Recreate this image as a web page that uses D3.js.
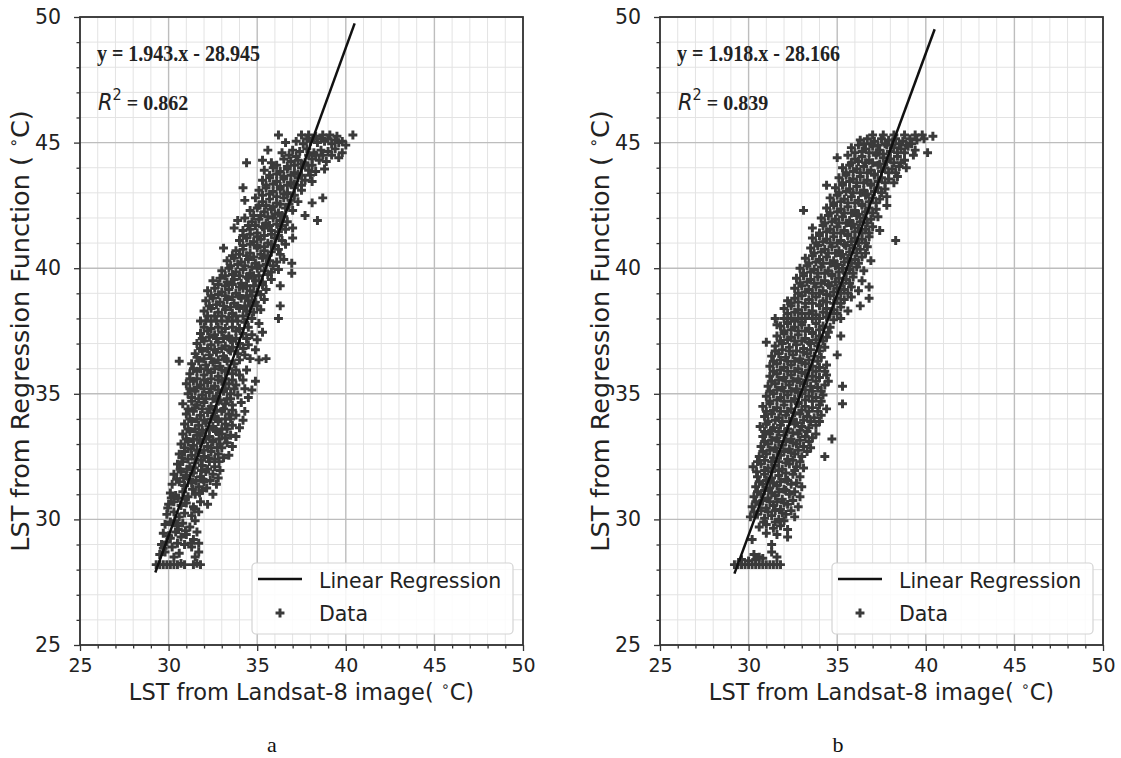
<!DOCTYPE html>
<html>
<head>
<meta charset="utf-8">
<script src="https://cdn.jsdelivr.net/npm/d3@7"></script>
<style>
  body { margin: 0; background: #fff; }
</style>
</head>
<body>
<div id="chart"></div>
<script>
// axis ticks shared by both panels (same range on x and y)
var majorTicks = [25, 30, 35, 40, 45, 50];
var panelLetters = ["a", "b"];
var equationLabels = ["y = 1.943.x - 28.945", "y = 1.918.x - 28.166"];
var r2Labels = ["0.862", "0.839"];
var slopes = [1.943, 1.918];
var intercepts = [-28.945, -28.166];
var fitRanges = [[29.25, 40.5], [29.2, 40.5]];
var legendLabels = ["Linear Regression", "Data"];

// scatter points  [landsat, regression]
var scatterA = [
  [29.3,28.2],[29.5,28.2],[29.7,28.2],[29.9,28.2],[30.1,28.2],[30.3,28.2],[30.5,28.2],[30.7,28.25],[30.9,28.2],
  [31.4,28.2],[31.6,28.25],[31.8,28.2],[31.5,28.5],[31.7,28.7],[31.3,28.9],
  [29.5,28.6],[29.8,28.7],[30.3,28.5],[30.6,28.65],
  [29.6,29.0],[29.9,29.1],[30.2,28.9],[30.5,29.05],[30.9,29.0],[31.4,29.2],[31.7,29.05],
  [29.7,29.45],[30.0,29.35],[30.4,29.5],[30.7,29.3],[31.0,29.4],[31.6,29.5],
  [29.8,29.8],[30.1,29.9],[30.5,29.75],[30.8,29.85],[31.2,29.7],[31.5,29.95],
  [29.9,30.2],[30.3,30.3],[30.6,30.1],[30.9,30.25],[31.3,30.15],[31.7,30.3],
  [30.0,30.6],[30.3,30.7],[30.7,30.55],[31.0,30.65],[31.4,30.5],[31.8,30.7],[32.2,30.6],
  [30.1,31.05],[30.4,30.95],[30.8,31.1],[31.1,30.9],[31.5,31.0],[31.9,31.15],[32.5,31.0],
  [30.2,31.4],[30.6,31.5],[30.9,31.35],[31.3,31.45],[31.7,31.3],[32.0,31.5],[32.7,31.4],
  [30.3,31.8],[30.7,31.9],[31.0,31.75],[31.4,31.85],[31.8,31.7],[32.1,31.9],[32.5,31.8],[32.8,31.65],
  [30.5,32.2],[30.8,32.3],[31.2,32.1],[31.5,32.25],[31.9,32.15],[32.3,32.3],[32.6,32.1],
  [30.6,32.6],[30.9,32.7],[31.3,32.55],[31.7,32.65],[32.0,32.5],[32.4,32.7],[32.8,32.6],[33.4,32.55],
  [30.7,33.0],[31.1,33.1],[31.4,32.95],[31.8,33.05],[32.2,32.9],[32.5,33.1],[32.9,33.0],[33.3,33.05],
  [30.8,33.4],[31.2,33.5],[31.6,33.35],[31.9,33.45],[32.3,33.3],[32.7,33.5],[33.0,33.4],[33.5,33.35],
  [30.9,33.8],[31.3,33.9],[31.7,33.75],[32.1,33.85],[32.5,33.7],[32.8,33.9],[33.2,33.8],[33.6,33.75],
  [31.0,34.2],[31.4,34.3],[31.8,34.15],[32.2,34.25],[32.6,34.1],[33.0,34.3],[33.4,34.2],[33.8,34.15],
  [30.8,34.6],[31.3,34.7],[31.6,34.55],[32.0,34.65],[32.4,34.5],[32.8,34.7],[33.2,34.6],[33.6,34.55],[34.1,34.65],
  [31.1,35.0],[31.5,35.1],[31.9,34.95],[32.3,35.05],[32.7,34.9],[33.1,35.1],[33.5,35.0],[33.9,34.95],
  [31.0,35.4],[31.4,35.5],[31.8,35.35],[32.2,35.45],[32.6,35.3],[33.0,35.5],[33.4,35.4],[33.8,35.35],
  [31.2,35.8],[31.6,35.9],[32.0,35.75],[32.4,35.85],[32.8,35.7],[33.2,35.9],[33.6,35.8],[34.0,35.75],
  [30.6,36.3],[31.3,36.2],[31.7,36.3],[32.1,36.15],[32.5,36.25],[32.9,36.1],[33.3,36.3],[33.7,36.2],[35.1,36.35],[35.5,36.4],
  [31.5,36.6],[31.9,36.7],[32.3,36.55],[32.7,36.65],[33.1,36.5],[33.5,36.7],[33.9,36.6],[34.3,36.55],
  [31.6,37.0],[32.0,37.1],[32.4,36.95],[32.8,37.05],[33.2,36.9],[33.6,37.1],[34.0,37.0],[34.5,36.95],
  [31.8,37.4],[32.2,37.5],[32.6,37.35],[33.0,37.45],[33.4,37.3],[33.8,37.5],[34.2,37.4],[34.7,37.35],[35.3,37.45],
  [31.8,37.9],[32.1,37.9],[32.4,37.9],[32.7,37.9],[33.0,37.9],[33.3,37.9],[33.6,37.9],[33.9,37.9],[34.3,37.85],[34.7,38.0],[35.1,37.8],
  [32.0,38.3],[32.4,38.4],[32.8,38.25],[33.2,38.35],[33.6,38.2],[34.0,38.4],[34.4,38.3],[34.8,38.25],[35.2,38.35],[36.2,38.0],
  [32.1,38.7],[32.5,38.8],[32.9,38.65],[33.3,38.75],[33.7,38.6],[34.1,38.8],[34.5,38.7],[34.9,38.65],[35.4,38.75],[36.3,38.5],
  [32.2,39.1],[32.6,39.2],[33.0,39.05],[33.4,39.15],[33.8,39.0],[34.2,39.2],[34.6,39.1],[35.0,39.05],[35.5,39.15],[36.3,39.3],
  [32.5,39.5],[32.9,39.6],[33.3,39.45],[33.7,39.55],[34.1,39.4],[34.5,39.6],[34.9,39.5],[35.3,39.45],[35.8,39.55],
  [33.0,39.9],[33.4,40.0],[33.8,39.85],[34.2,39.95],[34.6,39.8],[35.0,40.0],[35.4,39.9],[35.8,39.85],[36.2,39.95],[36.95,39.8],
  [33.3,40.3],[33.7,40.4],[34.1,40.25],[34.5,40.35],[34.9,40.2],[35.3,40.4],[35.7,40.3],[36.1,40.25],[36.5,40.35],[36.95,40.2],
  [33.1,40.8],[33.8,40.7],[34.2,40.75],[34.6,40.6],[35.0,40.8],[35.4,40.7],[35.8,40.65],[36.2,40.75],
  [34.0,41.1],[34.4,41.2],[34.8,41.05],[35.2,41.15],[35.6,41.0],[36.0,41.2],[36.4,41.1],[37.0,41.2],
  [33.7,41.6],[34.2,41.5],[34.6,41.55],[35.0,41.4],[35.4,41.6],[35.8,41.5],[36.2,41.45],[36.6,41.55],[37.0,41.6],
  [33.9,41.9],[34.3,42.0],[34.7,41.85],[35.1,41.95],[35.5,41.8],[35.9,42.0],[36.3,41.9],[36.7,41.85],[38.4,41.9],
  [34.6,42.3],[35.0,42.4],[35.4,42.25],[35.8,42.35],[36.2,42.2],[36.6,42.4],[37.0,42.3],[37.7,42.1],[38.1,42.6],
  [34.3,42.7],[34.9,42.8],[35.3,42.65],[35.7,42.75],[36.1,42.6],[36.5,42.8],[36.9,42.7],[37.3,42.65],
  [34.2,43.2],[35.1,43.1],[35.5,43.2],[35.9,43.05],[36.3,43.15],[36.7,43.0],[37.1,43.2],[37.5,43.1],[38.7,42.8],
  [35.3,43.5],[35.7,43.6],[36.1,43.45],[36.5,43.55],[36.9,43.4],[37.3,43.6],[37.7,43.5],[38.1,43.45],
  [35.4,43.9],[35.9,44.0],[36.3,43.85],[36.7,43.95],[37.1,43.8],[37.5,44.0],[37.9,43.9],[38.3,43.85],[38.8,43.95],
  [34.4,44.2],[35.3,44.3],[35.8,44.2],[36.5,44.35],[36.9,44.25],[37.3,44.3],[37.7,44.2],[38.1,44.35],[38.5,44.3],[38.9,44.25],[39.6,44.4],
  [35.6,44.7],[36.4,44.6],[37.0,44.7],[37.4,44.65],[37.8,44.75],[38.2,44.6],[38.6,44.7],[39.0,44.65],[39.4,44.75],[39.8,44.6],
  [36.6,45.0],[37.2,45.05],[37.6,44.95],[38.0,45.05],[38.4,45.0],[38.8,45.05],[39.2,44.95],[39.6,45.0],[40.0,44.9],
  [36.2,45.3],[37.5,45.3],[37.9,45.3],[38.3,45.25],[38.7,45.3],[39.1,45.3],[39.5,45.25],[40.4,45.3],
  // denser core of panel a
  [29.7,28.85],[30.1,29.25],[30.55,29.6],[30.95,29.55],[31.25,29.05],[30.35,29.95],[31.45,30.4],[29.95,30.45],
  [30.15,30.85],[30.55,30.85],[30.95,30.8],[31.35,31.2],[31.75,31.05],[32.15,31.25],[30.45,31.6],[30.85,31.65],
  [31.2,31.6],[31.55,31.55],[31.95,31.6],[32.35,31.55],[32.9,31.95],[30.65,32.0],[31.05,32.0],[31.45,32.05],
  [31.85,31.95],[32.2,32.0],[32.85,32.3],[33.1,32.45],
  [30.75,32.45],[31.1,32.4],[31.5,32.4],[31.85,32.35],[32.25,32.45],[32.6,32.4],[33.0,32.85],[33.6,32.9],
  [30.9,32.85],[31.25,32.8],[31.6,32.75],[32.0,32.75],[32.4,32.85],[32.75,32.85],[33.2,33.25],[33.8,33.3],
  [31.0,33.2],[31.4,33.2],[31.75,33.15],[32.1,33.2],[32.5,33.15],[32.85,33.2],[33.3,33.6],[34.0,33.65],
  [31.1,33.6],[31.5,33.6],[31.9,33.55],[32.3,33.6],[32.65,33.55],[33.0,33.6],[33.5,34.0],[34.2,33.95],
  [31.2,34.0],[31.6,34.0],[32.0,33.95],[32.4,34.0],[32.8,34.0],[33.2,34.0],[33.6,34.35],[34.3,34.3],
  [31.1,34.4],[31.5,34.45],[31.9,34.4],[32.3,34.4],[32.7,34.35],[33.1,34.4],[33.5,34.8],[34.5,34.85],
  [31.3,34.85],[31.7,34.8],[32.1,34.8],[32.5,34.8],[32.9,34.75],[33.3,34.8],[33.7,35.2],[34.3,35.2],[34.7,35.15],
  [31.2,35.2],[31.6,35.25],[32.0,35.2],[32.4,35.2],[32.8,35.15],[33.2,35.2],[33.6,35.55],[34.2,35.55],[34.9,35.5],
  [31.2,35.6],[31.6,35.6],[32.0,35.55],[32.4,35.6],[32.8,35.55],[33.2,35.6],[33.8,35.95],[34.4,35.95],
  [31.4,36.0],[31.8,36.0],[32.2,35.95],[32.6,36.0],[33.0,35.95],[33.4,36.0],[34.0,36.35],[34.6,36.4],
  [31.6,36.45],[32.0,36.4],[32.4,36.4],[32.8,36.35],[33.2,36.4],[33.6,36.85],[34.2,36.8],[34.9,36.75],
  [31.8,36.8],[32.2,36.8],[32.6,36.75],[33.0,36.8],[33.4,36.75],[33.8,37.2],[34.4,37.2],[35.0,37.15],
  [31.9,37.2],[32.3,37.25],[32.7,37.2],[33.1,37.2],[33.5,37.15],[34.0,37.6],[34.5,37.65],
  [32.0,37.65],[32.4,37.6],[32.8,37.65],[33.2,37.6],[33.6,37.65],
  [32.2,38.1],[32.6,38.1],[33.0,38.1],[33.4,38.05],[33.8,38.1],[34.2,38.1],[34.6,38.5],[35.0,38.5],
  [32.3,38.5],[32.7,38.55],[33.1,38.5],[33.5,38.45],[33.9,38.5],[34.3,38.5],[34.7,38.9],[35.2,38.95],
  [32.4,38.9],[32.8,38.95],[33.2,38.9],[33.6,38.85],[34.0,38.9],[34.4,38.9],[34.8,39.3],[35.3,39.35],
  [32.8,39.35],[33.2,39.3],[33.6,39.35],[34.0,39.25],[34.4,39.3],[35.1,39.7],[35.6,39.75],
  [33.2,39.7],[33.6,39.75],[34.0,39.7],[34.4,39.65],[34.8,39.7],
  [33.5,40.1],[33.9,40.15],[34.3,40.1],[34.7,40.05],[35.1,40.1],[35.5,40.15],[35.9,40.1],[36.3,40.55],
  [33.6,40.5],[34.0,40.55],[34.4,40.5],[34.8,40.45],[35.2,40.55],[35.6,40.5],[36.0,40.9],[36.6,40.95],
  [34.2,40.9],[34.6,40.95],[35.0,40.9],[35.4,40.85],[35.8,40.95],[36.2,41.3],
  [34.2,41.3],[34.6,41.35],[35.0,41.25],[35.4,41.3],[35.8,41.35],[36.4,41.7],
  [34.5,41.7],[34.9,41.7],[35.3,41.65],[35.7,41.7],[36.1,41.75],[36.5,42.05],
  [34.8,42.1],[35.2,42.1],[35.6,42.05],[36.0,42.15],[36.4,42.1],[36.8,42.55],
  [35.1,42.5],[35.5,42.5],[35.9,42.45],[36.3,42.55],[36.7,42.95],[37.1,42.9],
  [35.3,42.9],[35.7,42.95],[36.1,42.85],[36.5,42.95],[36.9,43.35],[37.5,43.3],
  [35.5,43.3],[35.9,43.35],[36.3,43.25],[36.7,43.3],[37.1,43.35],[37.5,43.7],[38.0,43.7],
  [35.7,43.7],[36.1,43.75],[36.5,43.65],[36.9,43.7],[37.3,43.75],[37.7,44.1],[38.1,44.1],
  [36.1,44.1],[36.7,44.05],[37.1,44.1],[37.5,44.15],[37.9,44.5],[38.3,44.5],[38.7,44.5],
  [37.2,44.45],[36.8,44.5],[39.2,44.5],[37.8,45.15],[38.2,45.15],[38.6,45.15],[39.0,45.15],[39.4,45.1],[39.8,45.05]
];

// scatter points
var scatterB = [
  [29.2,28.2],[29.4,28.2],[29.6,28.2],[29.8,28.2],[30.0,28.2],[30.2,28.2],[30.4,28.2],[30.6,28.2],[30.8,28.2],
  [31.0,28.2],[31.2,28.2],[31.4,28.2],[31.6,28.2],[31.8,28.2],
  [30.3,28.6],[30.6,28.5],[31.3,28.7],[31.3,29.0],[30.2,29.2],[32.2,29.3],
  [30.6,29.7],[31.0,29.8],[31.4,29.65],[31.8,29.75],[32.2,29.6],
  [30.1,30.1],[30.5,30.2],[30.9,30.05],[31.3,30.15],[31.7,30.0],[32.1,30.2],[32.6,30.1],
  [30.2,30.5],[30.6,30.6],[31.0,30.45],[31.4,30.55],[31.8,30.4],[32.2,30.6],[32.8,30.5],
  [30.3,30.9],[30.7,31.0],[31.1,30.85],[31.5,30.95],[31.9,30.8],[32.3,31.0],[32.9,30.9],
  [30.4,31.3],[30.8,31.4],[31.2,31.25],[31.6,31.35],[32.0,31.2],[32.4,31.4],[33.0,31.3],
  [30.5,31.7],[30.9,31.8],[31.3,31.65],[31.7,31.75],[32.1,31.6],[32.5,31.8],[32.9,31.7],
  [30.25,32.1],[30.7,32.2],[31.1,32.05],[31.5,32.15],[31.9,32.0],[32.3,32.2],[32.7,32.1],[33.1,32.05],
  [30.6,32.5],[31.0,32.6],[31.4,32.45],[31.8,32.55],[32.2,32.4],[32.6,32.6],[33.0,32.5],[34.3,32.5],
  [30.7,32.9],[31.1,33.0],[31.5,32.85],[31.9,32.95],[32.3,32.8],[32.7,33.0],[33.1,32.9],[33.5,32.85],
  [30.8,33.3],[31.2,33.4],[31.6,33.25],[32.0,33.35],[32.4,33.2],[32.8,33.4],[33.2,33.3],[33.6,33.25],[34.7,33.2],
  [30.65,33.7],[31.0,33.8],[31.4,33.65],[31.8,33.75],[32.2,33.6],[32.6,33.8],[33.0,33.7],[33.4,33.65],[33.8,33.75],
  [30.9,34.1],[31.3,34.2],[31.7,34.05],[32.1,34.15],[32.5,34.0],[32.9,34.2],[33.3,34.1],[33.7,34.05],[34.1,34.15],
  [30.8,34.5],[31.2,34.6],[31.6,34.45],[32.0,34.55],[32.4,34.4],[32.8,34.6],[33.2,34.5],[33.6,34.45],[34.0,34.55],[34.4,34.4],
  [31.0,34.9],[31.4,35.0],[31.8,34.85],[32.2,34.95],[32.6,34.8],[33.0,35.0],[33.4,34.9],[33.8,34.85],[34.2,34.95],[35.3,34.6],
  [31.1,35.3],[31.5,35.4],[31.9,35.25],[32.3,35.35],[32.7,35.2],[33.1,35.4],[33.5,35.3],[33.9,35.25],[34.3,35.35],[35.3,35.3],
  [31.2,35.7],[31.6,35.8],[32.0,35.65],[32.4,35.75],[32.8,35.6],[33.2,35.8],[33.6,35.7],[34.0,35.65],[34.4,35.75],
  [31.2,36.1],[31.6,36.2],[32.0,36.05],[32.4,36.15],[32.8,36.0],[33.2,36.2],[33.6,36.1],[34.0,36.05],[34.4,36.15],
  [31.3,36.5],[31.7,36.6],[32.1,36.45],[32.5,36.55],[32.9,36.4],[33.3,36.6],[33.7,36.5],[34.1,36.45],[35.0,36.55],
  [31.0,37.05],[31.5,36.9],[31.9,37.0],[32.3,36.85],[32.7,36.95],[33.1,36.8],[33.5,37.0],[33.9,36.9],[34.3,36.85],
  [31.6,37.3],[32.0,37.4],[32.4,37.25],[32.8,37.35],[33.2,37.2],[33.6,37.4],[34.0,37.3],[34.4,37.25],[35.2,37.3],
  [31.6,37.75],[31.8,37.7],[32.2,37.8],[32.6,37.65],[33.0,37.75],[33.4,37.6],[33.8,37.8],[34.2,37.7],[34.6,37.65],
  [31.5,38.0],[32.0,38.0],[32.4,38.0],[32.8,38.0],[33.2,38.0],[33.6,38.0],[34.0,38.0],[34.4,38.05],[34.8,37.95],[35.2,38.0],
  [32.0,38.4],[32.4,38.5],[32.8,38.35],[33.2,38.45],[33.6,38.3],[34.0,38.5],[34.4,38.4],[34.8,38.35],[35.2,38.45],[35.6,38.3],[36.3,38.5],
  [32.2,38.7],[32.6,38.8],[33.0,38.9],[33.4,38.75],[33.8,38.85],[34.2,38.7],[34.6,38.9],[35.0,38.8],[35.4,38.75],[35.8,38.85],[36.8,38.8],
  [32.6,39.2],[33.0,39.3],[33.4,39.15],[33.8,39.25],[34.2,39.1],[34.6,39.3],[35.0,39.2],[35.4,39.15],[35.8,39.25],[36.2,39.1],[36.8,39.25],
  [32.7,39.6],[33.1,39.7],[33.5,39.55],[33.9,39.65],[34.3,39.5],[34.7,39.7],[35.1,39.6],[35.5,39.55],[35.9,39.65],[36.4,39.5],
  [32.9,40.0],[33.3,40.1],[33.7,39.95],[34.1,40.05],[34.5,39.9],[34.9,40.1],[35.3,40.0],[35.7,39.95],[36.1,40.05],[36.5,39.9],
  [33.2,40.4],[33.6,40.5],[34.0,40.35],[34.4,40.45],[34.8,40.3],[35.2,40.5],[35.6,40.4],[36.0,40.35],[36.4,40.45],[36.9,40.3],
  [33.5,40.8],[33.9,40.9],[34.3,40.75],[34.7,40.85],[35.1,40.7],[35.5,40.9],[35.9,40.8],[36.3,40.75],[36.7,40.85],
  [33.6,41.2],[34.0,41.3],[34.4,41.15],[34.8,41.25],[35.2,41.1],[35.6,41.3],[36.0,41.2],[36.4,41.15],[36.8,41.25],[38.3,41.1],
  [33.6,41.6],[34.2,41.7],[34.6,41.55],[35.0,41.65],[35.4,41.5],[35.8,41.7],[36.2,41.6],[36.6,41.55],[37.0,41.65],[37.4,41.5],
  [34.1,42.0],[34.5,42.1],[34.9,41.95],[35.3,42.05],[35.7,41.9],[36.1,42.1],[36.5,42.0],[36.9,41.95],[37.3,42.05],
  [33.1,42.3],[34.4,42.4],[34.8,42.5],[35.2,42.35],[35.6,42.45],[36.0,42.3],[36.4,42.5],[36.8,42.4],[37.2,42.35],[37.8,42.5],
  [34.6,42.8],[35.0,42.9],[35.4,42.75],[35.8,42.85],[36.2,42.7],[36.6,42.9],[37.0,42.8],[37.4,42.75],[37.8,42.85],
  [34.4,43.3],[34.9,43.2],[35.3,43.3],[35.7,43.15],[36.1,43.25],[36.5,43.1],[36.9,43.3],[37.3,43.2],[37.7,43.15],[38.2,43.4],
  [35.1,43.6],[35.5,43.7],[35.9,43.55],[36.3,43.65],[36.7,43.5],[37.1,43.7],[37.5,43.6],[37.9,43.55],[38.4,43.65],
  [35.3,44.0],[35.7,44.1],[36.1,43.95],[36.5,44.05],[36.9,43.9],[37.3,44.1],[37.7,44.0],[38.1,43.95],[38.5,44.05],[38.9,44.0],
  [35.0,44.4],[35.6,44.5],[36.0,44.35],[36.4,44.45],[36.8,44.3],[37.2,44.5],[37.6,44.4],[38.0,44.35],[38.4,44.45],[38.8,44.3],[39.3,44.5],
  [35.8,44.8],[36.2,44.9],[36.6,44.75],[37.0,44.85],[37.4,44.7],[37.8,44.9],[38.2,44.8],[38.6,44.75],[39.0,44.85],[39.4,44.7],[40.1,44.6],
  [36.3,45.1],[36.7,45.15],[37.1,45.05],[37.5,45.15],[37.9,45.1],[38.3,45.15],[38.7,45.05],[39.1,45.15],[39.5,45.1],[39.9,45.15],
  [37.0,45.3],[37.6,45.3],[38.2,45.3],[38.8,45.3],[39.4,45.3],[39.8,45.3],[40.4,45.25],
  // denser core of panel b
  [30.4,28.4],[30.8,28.45],[29.6,28.4],[30.0,28.35],[31.6,28.5],[31.0,29.45],[31.6,29.4],[30.85,29.9],[31.5,29.9],[32.0,29.95],
  [30.3,30.3],[30.7,30.35],[31.1,30.3],[31.5,30.35],[31.9,30.25],[32.4,30.35],[30.4,30.7],[30.8,30.75],[31.2,30.7],
  [31.6,30.7],[32.0,30.65],[32.5,30.75],[30.5,31.1],[30.9,31.15],[31.3,31.05],[31.7,31.1],[32.1,31.15],[32.6,31.1],
  [30.6,31.5],[31.0,31.55],[31.4,31.45],[31.8,31.5],[32.2,31.55],[32.7,31.45],[30.45,31.9],[30.9,31.95],[31.3,31.9],
  [31.7,31.95],[32.1,31.85],[32.6,31.95],
  [30.5,32.3],[30.9,32.35],[31.3,32.3],[31.7,32.3],[32.1,32.25],[32.5,32.35],[32.9,32.3],[30.8,32.7],[31.2,32.75],
  [31.6,32.7],[32.0,32.7],[32.4,32.65],[32.8,32.75],[33.3,32.7],[30.9,33.1],[31.3,33.15],[31.7,33.1],[32.1,33.1],
  [32.5,33.05],[32.9,33.15],[33.4,33.1],[30.9,33.5],[31.3,33.55],[31.7,33.5],[32.1,33.5],[32.5,33.45],[32.9,33.55],
  [33.3,33.5],[33.8,33.4],[31.1,33.9],[31.5,33.95],[31.9,33.9],[32.3,33.9],[32.7,33.85],[33.1,33.95],[33.5,33.9],[34.0,33.9],
  [31.0,34.3],[31.4,34.35],[31.8,34.3],[32.2,34.3],[32.6,34.25],[33.0,34.35],[33.4,34.3],[33.9,34.3],[31.2,34.7],
  [31.6,34.75],[32.0,34.7],[32.4,34.7],[32.8,34.65],[33.2,34.75],[33.6,34.7],[34.1,34.7],[31.2,35.1],[31.6,35.15],
  [32.0,35.1],[32.4,35.1],[32.8,35.05],[33.2,35.15],[33.6,35.1],[34.1,35.1],[31.3,35.5],[31.7,35.55],[32.1,35.5],
  [32.5,35.5],[32.9,35.45],[33.3,35.55],[33.8,35.5],[34.5,35.5],[31.4,35.9],[31.8,35.95],[32.2,35.9],[32.6,35.9],
  [33.0,35.85],[33.4,35.95],[33.8,35.9],[34.3,35.9],
  [31.4,36.3],[31.8,36.35],[32.2,36.3],[32.6,36.3],[33.0,36.25],[33.4,36.35],[33.9,36.3],[31.5,36.7],[31.9,36.75],
  [32.3,36.7],[32.7,36.7],[33.1,36.65],[33.5,36.75],[34.0,36.7],[31.8,37.1],[32.2,37.15],[32.6,37.1],[33.0,37.1],
  [33.4,37.05],[33.8,37.15],[34.2,37.1],[32.0,37.5],[32.4,37.55],[32.8,37.5],[33.2,37.5],[33.6,37.45],[34.0,37.55],
  [34.5,37.45],[32.2,37.85],[32.6,37.9],[33.0,37.85],
  [32.2,38.2],[32.6,38.25],[33.0,38.2],[33.4,38.2],[33.8,38.15],[34.2,38.25],[34.6,38.2],[35.0,38.2],[32.4,38.6],
  [32.8,38.65],[33.2,38.6],[33.6,38.6],[34.0,38.55],[34.4,38.65],[34.8,38.6],[35.2,38.6],[32.8,39.0],[33.2,39.05],
  [33.6,39.0],[34.0,39.0],[34.4,38.95],[34.8,39.05],[35.2,39.0],[35.6,39.0],[32.9,39.4],[33.3,39.45],[33.7,39.4],
  [34.1,39.4],[34.5,39.35],[34.9,39.45],[35.3,39.4],[35.7,39.4],[33.1,39.8],[33.5,39.85],[33.9,39.8],[34.3,39.8],
  [34.7,39.75],[35.1,39.85],[35.5,39.8],[35.9,39.8],
  [33.4,40.2],[33.8,40.25],[34.2,40.2],[34.6,40.2],[35.0,40.15],[35.4,40.25],[35.8,40.2],[36.2,40.2],[33.7,40.6],
  [34.1,40.65],[34.5,40.6],[34.9,40.6],[35.3,40.55],[35.7,40.65],[36.1,40.6],[36.6,40.6],[33.8,41.0],[34.2,41.05],
  [34.6,41.0],[35.0,41.0],[35.4,40.95],[35.8,41.05],[36.2,41.0],[36.6,41.0],[34.0,41.4],[34.4,41.45],[34.8,41.4],
  [35.2,41.4],[35.6,41.35],[36.0,41.45],[36.4,41.4],[36.8,41.4],[34.3,41.8],[34.7,41.85],[35.1,41.8],[35.5,41.8],
  [35.9,41.75],[36.3,41.85],[36.7,41.8],
  [34.6,42.2],[35.0,42.25],[35.4,42.2],[35.8,42.2],[36.2,42.15],[36.6,42.25],[37.0,42.2],[34.8,42.6],[35.2,42.65],
  [35.6,42.6],[36.0,42.6],[36.4,42.55],[36.8,42.65],[37.2,42.6],[35.1,43.0],[35.5,43.05],[35.9,43.0],[36.3,43.0],
  [36.7,42.95],[37.1,43.05],[37.5,43.0],[35.3,43.4],[35.7,43.45],[36.1,43.4],[36.5,43.4],[36.9,43.35],[37.3,43.45],
  [37.7,43.4],[35.5,43.8],[35.9,43.85],[36.3,43.8],[36.7,43.8],[37.1,43.75],[37.5,43.85],[37.9,43.8],[38.3,43.8],
  [35.8,44.2],[36.2,44.25],[36.6,44.2],[37.0,44.2],[37.4,44.15],[37.8,44.25],[38.2,44.2],[38.6,44.2],[36.0,44.6],
  [36.4,44.65],[36.8,44.6],[37.2,44.6],[37.6,44.55],[38.0,44.65],[38.4,44.6],[38.8,44.6],[39.2,44.95],[36.5,44.95],
  [36.9,44.95],[37.3,44.9],[37.7,44.95],[38.1,44.9],[38.5,44.95],[38.9,44.9]
];

var scatters = [scatterA, scatterB];

// page + plot geometry
var svgWidth = 1121, svgHeight = 758;
var plotTop = 17, plotWidth = 443, plotHeight = 628;
var plotLefts = [80, 660];
var letterX = [272, 838];

var svg = d3.select("#chart")
  .append("svg")
    .attr("width", svgWidth)
    .attr("height", svgHeight)
    .style("background", "#fff");

var markColor = "#3a3a3a";
var cross = d3.symbol().type(d3.symbolCross).size(44);

// minor tick values between the 5-step majors
var minorTicks = d3.range(26, 50).filter(function(v) { return v % 5 !== 0; });

function drawPanel(i) {
  var g = svg.append("g")
    .attr("transform", "translate(" + plotLefts[i] + "," + plotTop + ")");

  var x = d3.scaleLinear().domain([25, 50]).range([0, plotWidth]);
  var y = d3.scaleLinear().domain([25, 50]).range([plotHeight, 0]);

  // minor grid
  g.selectAll(".mgx").data(minorTicks).enter().append("line")
    .attr("x1", function(d) { return x(d); }).attr("x2", function(d) { return x(d); })
    .attr("y1", 0).attr("y2", plotHeight)
    .attr("stroke", "#e3e3e3").attr("stroke-width", 1);
  g.selectAll(".mgy").data(minorTicks).enter().append("line")
    .attr("y1", function(d) { return y(d); }).attr("y2", function(d) { return y(d); })
    .attr("x1", 0).attr("x2", plotWidth)
    .attr("stroke", "#e3e3e3").attr("stroke-width", 1);

  // major grid
  g.selectAll(".gx").data(majorTicks).enter().append("line")
    .attr("x1", function(d) { return x(d); }).attr("x2", function(d) { return x(d); })
    .attr("y1", 0).attr("y2", plotHeight)
    .attr("stroke", "#bdbdbd").attr("stroke-width", 1.4);
  g.selectAll(".gy").data(majorTicks).enter().append("line")
    .attr("y1", function(d) { return y(d); }).attr("y2", function(d) { return y(d); })
    .attr("x1", 0).attr("x2", plotWidth)
    .attr("stroke", "#bdbdbd").attr("stroke-width", 1.4);

  // scatter data
  g.selectAll(".pt").data(scatters[i]).enter().append("path")
    .attr("d", cross)
    .attr("transform", function(d) { return "translate(" + x(d[0]) + "," + y(d[1]) + ")"; })
    .attr("fill", markColor);

  // regression line
  var fitPts = fitRanges[i].map(function(v) { return [v, slopes[i] * v + intercepts[i]]; });
  g.append("path")
    .datum(fitPts)
    .attr("d", d3.line().x(function(d) { return x(d[0]); }).y(function(d) { return y(d[1]); }))
    .attr("stroke", "#111").attr("stroke-width", 2.5).attr("fill", "none");

  // axes
  var xAxis = g.append("g").attr("transform", "translate(0," + plotHeight + ")")
    .call(d3.axisBottom(x).tickValues(majorTicks).tickSize(6).tickPadding(8));
  var xMinor = g.append("g").attr("transform", "translate(0," + plotHeight + ")")
    .call(d3.axisBottom(x).tickValues(minorTicks).tickSize(3.5).tickFormat(""));
  var yAxis = g.append("g")
    .call(d3.axisLeft(y).tickValues(majorTicks).tickSize(6).tickPadding(13));
  var yMinor = g.append("g")
    .call(d3.axisLeft(y).tickValues(minorTicks).tickSize(3.5).tickFormat(""));

  [xAxis, xMinor, yAxis, yMinor].forEach(function(a) {
    a.select(".domain").remove();
    a.selectAll("line").attr("stroke", "#333").attr("stroke-width", 1.3);
    a.selectAll("text")
      .style("font-family", "DejaVu Sans")
      .style("font-size", "19px")
      .attr("fill", "#222");
  });
  yAxis.selectAll("text").style("font-size", "20.5px");

  // frame
  g.append("rect")
    .attr("width", plotWidth).attr("height", plotHeight)
    .attr("fill", "none").attr("stroke", "#333").attr("stroke-width", 1.8);

  // equation + r squared (slightly taller glyphs, as in the source figure)
  g.append("text")
    .attr("transform", "translate(17,44) scale(1,1.12)")
    .style("font-family", "Liberation Serif")
    .style("font-weight", "bold")
    .style("font-size", "20px")
    .attr("fill", "#222")
    .text(equationLabels[i]);
  var r2 = g.append("text")
    .attr("transform", "translate(18,93) scale(1,1.1)")
    .attr("fill", "#222");
  r2.append("tspan").style("font-family", "DejaVu Sans").style("font-style", "italic")
    .style("font-size", "21px").text("R");
  r2.append("tspan").style("font-family", "DejaVu Sans").style("font-size", "14.5px")
    .attr("dy", -9).text("2");
  r2.append("tspan").attr("dy", 9).style("font-family", "Liberation Serif")
    .style("font-weight", "bold").style("font-size", "20px")
    .text(" = " + r2Labels[i]);

  // legend
  var lg = g.append("g").attr("transform", "translate(172,546)");
  lg.append("rect")
    .attr("width", 261).attr("height", 71).attr("rx", 4)
    .attr("fill", "#fff").attr("fill-opacity", 0.85)
    .attr("stroke", "#d4d4d4").attr("stroke-width", 1.2);
  lg.append("line")
    .attr("x1", 6).attr("x2", 50).attr("y1", 16).attr("y2", 16)
    .attr("stroke", "#111").attr("stroke-width", 2.5);
  lg.append("path").attr("d", cross).attr("transform", "translate(28,50)").attr("fill", markColor);
  lg.selectAll(".lt").data(legendLabels).enter().append("text")
    .attr("x", 67)
    .attr("y", function(d, k) { return 25 + k * 33; })
    .style("font-family", "DejaVu Sans")
    .style("font-size", "20.5px")
    .attr("fill", "#222")
    .text(function(d) { return d; });

  // axis titles
  var xt = svg.append("text")
    .attr("x", plotLefts[i] + plotWidth / 2)
    .attr("y", 700)
    .attr("text-anchor", "middle")
    .style("font-family", "DejaVu Sans")
    .style("font-size", "22.5px")
    .attr("fill", "#222");
  xt.append("tspan").text("LST from Landsat-8 image( ");
  xt.append("tspan").attr("dy", -9).style("font-size", "14px").text("\u2218");
  xt.append("tspan").attr("dy", 9).text("C)");

  var yt = svg.append("text")
    .attr("transform", "translate(" + (plotLefts[i] - 51) + "," + (plotTop + 314) + ") rotate(-90)")
    .attr("text-anchor", "middle")
    .style("font-family", "DejaVu Sans")
    .style("font-size", "25.5px")
    .attr("fill", "#222");
  yt.append("tspan").text("LST from Regression Function ( ");
  yt.append("tspan").attr("dy", -10).style("font-size", "16px").text("\u2218");
  yt.append("tspan").attr("dy", 10).text("C)");

  // panel letter
  svg.append("text")
    .attr("x", letterX[i])
    .attr("y", 752)
    .attr("text-anchor", "middle")
    .style("font-family", "Liberation Serif")
    .style("font-size", "22px")
    .attr("fill", "#111")
    .text(panelLetters[i]);
}

drawPanel(0);
drawPanel(1);
</script>
</body>
</html>
